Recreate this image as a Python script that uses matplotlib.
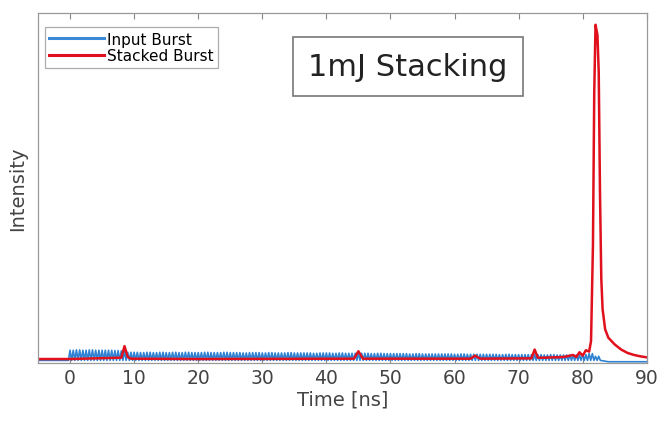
import numpy as np
import matplotlib.pyplot as plt

# input burst: pulse heights, one entry per ns from 0 to 82 ns
in_t = list(range(0, 83))
in_h = [0.030, 0.031, 0.030, 0.031, 0.030, 0.030, 0.030, 0.029, 0.028,
        0.024, 0.024, 0.023, 0.024, 0.023, 0.024, 0.023, 0.024, 0.023, 0.024,
        0.023, 0.023, 0.024, 0.023, 0.023, 0.024, 0.023, 0.023, 0.022, 0.023,
        0.023, 0.022, 0.023, 0.022, 0.022, 0.023, 0.022, 0.022, 0.022, 0.021,
        0.022, 0.022, 0.021, 0.022, 0.021, 0.021, 0.021, 0.021, 0.020, 0.021,
        0.020, 0.020, 0.020, 0.020, 0.019, 0.020, 0.019, 0.019, 0.019, 0.019,
        0.019, 0.018, 0.019, 0.018, 0.018, 0.018, 0.018, 0.018, 0.017, 0.018,
        0.017, 0.017, 0.017, 0.017, 0.017, 0.016, 0.017, 0.016, 0.016, 0.016,
        0.016, 0.017, 0.020, 0.012]
in_base = 0.008

# stacked burst, key points
st_t = [-5, 0, 8.0, 8.5, 9.0, 9.5, 20, 44.3, 45.0, 45.7, 55, 62.5, 63.2, 64.0,
        72.0, 72.5, 73.0, 74, 77, 78.5, 79, 79.5, 80, 80.5, 81, 81.3, 81.6,
        81.8, 82.0, 82.3, 82.5, 82.7, 82.9, 83.1, 83.5, 84, 85, 86, 87, 88, 89, 90]
st_v = [0.012, 0.012, 0.016, 0.050, 0.018, 0.013, 0.012, 0.013, 0.035, 0.013,
        0.013, 0.013, 0.022, 0.013, 0.014, 0.040, 0.016, 0.016, 0.018, 0.024,
        0.018, 0.032, 0.022, 0.038, 0.034, 0.065, 0.35, 0.80, 1.0, 0.97, 0.86,
        0.50, 0.25, 0.16, 0.10, 0.075, 0.055, 0.040, 0.030, 0.024, 0.020, 0.017]

fig = plt.figure(figsize=(6.61, 4.35), dpi=100)
ax = fig.add_axes([0.0575, 0.163, 0.921, 0.805])

# build comb trace from pulse list, two sub-pulses per ns
bx, by = [-5, -0.25], [in_base, in_base]
for t, h in zip(in_t, in_h):
    for s in (0, 0.5):
        bx += [t + s, t + s + 0.25]
        by += [in_base + h, in_base]
bx += [84, 90]
by += [in_base - 0.004, in_base - 0.004]

ax.plot(bx, by, color='#2f82d2', lw=1.2)
ax.plot(st_t, st_v, color='#e0101c', lw=1.8)
# legend handles
ax.plot([], [], color='#3a8ad8', lw=2.2, label='Input Burst')
ax.plot([], [], color='#e0101c', lw=2.2, label='Stacked Burst')

ax.set_xlim(-5, 90)
ax.set_ylim(0, 1.035)
ax.set_xticks(range(0, 91, 10))
ax.set_yticks([])
ax.tick_params(axis='x', direction='in', top=True, length=4,
               labelsize=13.5, labelcolor='#444444', color='#888888')
for s in ax.spines.values():
    s.set_color('#999999')
    s.set_linewidth(0.9)

ax.set_xlabel('Time [ns]', fontsize=14, color='#444444', labelpad=2)
ax.set_ylabel('Intensity', fontsize=14, color='#444444', labelpad=8)

leg = ax.legend(loc='upper left', fontsize=11, handlelength=3.6,
                handletextpad=0.15, borderpad=0.3, labelspacing=0.1,
                fancybox=False, edgecolor='#999999', borderaxespad=0,
                bbox_to_anchor=(0.011, 0.96))
leg.get_frame().set_linewidth(0.9)

ax.text(0.607, 0.847, '1mJ Stacking', transform=ax.transAxes, fontsize=22,
        ha='center', va='center', color='#222222',
        bbox=dict(boxstyle='square,pad=0.5', fc='white', ec='#777777', lw=1.2))

fig.savefig('out.png', dpi=100)
